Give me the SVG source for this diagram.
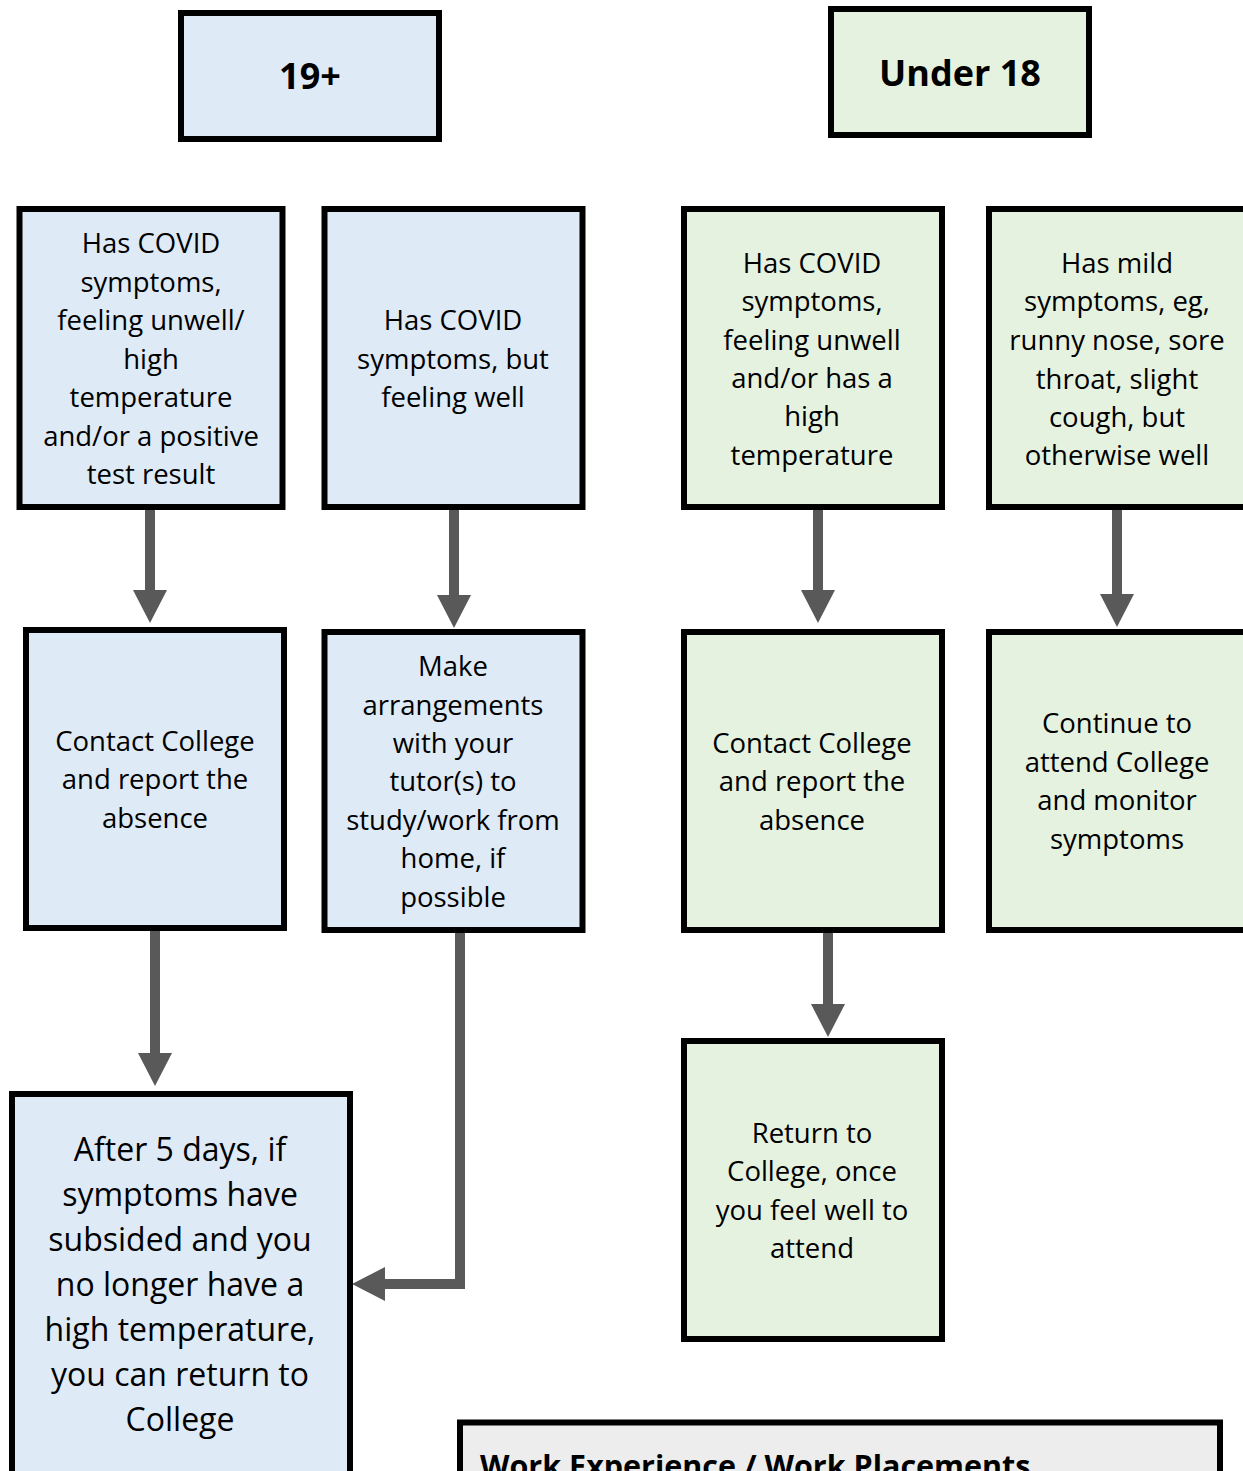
<svg xmlns="http://www.w3.org/2000/svg" width="1243" height="1471" viewBox="0 0 1243 1471">
<style>
.blue{fill:#DEEAF6;stroke:#000;stroke-width:6}
.green{fill:#E6F2E0;stroke:#000;stroke-width:6}
.grey{fill:#EDEDED;stroke:#000;stroke-width:6}
text{font-family:"Open Sans","Noto Sans","Liberation Sans",sans-serif;fill:#000}
.t{font-size:27.5px;text-anchor:middle}
.big{font-size:32px;text-anchor:middle}
.hdr{font-size:36px;font-weight:bold;text-anchor:middle}
.wk{font-size:30.5px;font-weight:bold}
.conn{fill:none;stroke:#595959;stroke-width:10}
</style>
<defs>
<marker id="ah" markerUnits="userSpaceOnUse" markerWidth="34" markerHeight="34" refX="0" refY="17" orient="auto">
<path d="M0,0 L33,17 L0,34 z" fill="#595959"/>
</marker>
</defs>
<rect width="1243" height="1471" fill="#fff"/>
<g id="connectors">
<path class="conn" d="M150,508 V590" marker-end="url(#ah)"/>
<path class="conn" d="M454,508 V595" marker-end="url(#ah)"/>
<path class="conn" d="M155,930 V1053" marker-end="url(#ah)"/>
<path class="conn" d="M460,932 V1284 H385" marker-end="url(#ah)"/>
<path class="conn" d="M818,508 V590" marker-end="url(#ah)"/>
<path class="conn" d="M1117,508 V594" marker-end="url(#ah)"/>
<path class="conn" d="M828,932 V1004" marker-end="url(#ah)"/>
</g>
<g id="hdr19">
<rect class="blue" x="181" y="13" width="258" height="126"/>
<text class="hdr" x="310" y="89">19+</text>
</g>
<g id="hdr18">
<rect class="green" x="831" y="9" width="258" height="126"/>
<text class="hdr" x="960" y="86">Under 18</text>
</g>
<g id="a1">
<rect class="blue" x="19.5" y="209" width="263" height="298"/>
<text class="t"><tspan x="151" y="253">Has COVID</tspan><tspan x="151" y="292">symptoms,</tspan><tspan x="151" y="330">feeling unwell/</tspan><tspan x="151" y="369">high</tspan><tspan x="151" y="407">temperature</tspan><tspan x="151" y="446">and/or a positive</tspan><tspan x="151" y="484">test result</tspan></text>
</g>
<g id="a2">
<rect class="blue" x="324.5" y="209" width="258" height="298"/>
<text class="t"><tspan x="453" y="330">Has COVID</tspan><tspan x="453" y="369">symptoms, but</tspan><tspan x="453" y="407">feeling well</tspan></text>
</g>
<g id="g1">
<rect class="green" x="684" y="209" width="258" height="298"/>
<text class="t"><tspan x="812" y="273">Has COVID</tspan><tspan x="812" y="311">symptoms,</tspan><tspan x="812" y="350">feeling unwell</tspan><tspan x="812" y="388">and/or has a</tspan><tspan x="812" y="426">high</tspan><tspan x="812" y="465">temperature</tspan></text>
</g>
<g id="g2">
<rect class="green" x="989" y="209" width="270" height="298"/>
<text class="t"><tspan x="1117" y="273">Has mild</tspan><tspan x="1117" y="311">symptoms, eg,</tspan><tspan x="1117" y="350">runny nose, sore</tspan><tspan x="1117" y="389">throat, slight</tspan><tspan x="1117" y="427">cough, but</tspan><tspan x="1117" y="465">otherwise well</tspan></text>
</g>
<g id="a3">
<rect class="blue" x="26" y="630" width="258" height="298"/>
<text class="t"><tspan x="155" y="751">Contact College</tspan><tspan x="155" y="789">and report the</tspan><tspan x="155" y="828">absence</tspan></text>
</g>
<g id="a4">
<rect class="blue" x="324.5" y="632" width="258" height="298"/>
<text class="t"><tspan x="453" y="676">Make</tspan><tspan x="453" y="715">arrangements</tspan><tspan x="453" y="753">with your</tspan><tspan x="453" y="791">tutor(s) to</tspan><tspan x="453" y="830">study/work from</tspan><tspan x="453" y="868">home, if</tspan><tspan x="453" y="907">possible</tspan></text>
</g>
<g id="g3">
<rect class="green" x="684" y="632" width="258" height="298"/>
<text class="t"><tspan x="812" y="753">Contact College</tspan><tspan x="812" y="791">and report the</tspan><tspan x="812" y="830">absence</tspan></text>
</g>
<g id="g4">
<rect class="green" x="989" y="632" width="270" height="298"/>
<text class="t"><tspan x="1117" y="733">Continue to</tspan><tspan x="1117" y="772">attend College</tspan><tspan x="1117" y="810">and monitor</tspan><tspan x="1117" y="849">symptoms</tspan></text>
</g>
<g id="g5">
<rect class="green" x="684" y="1041" width="258" height="298"/>
<text class="t"><tspan x="812" y="1143">Return to</tspan><tspan x="812" y="1181">College, once</tspan><tspan x="812" y="1220">you feel well to</tspan><tspan x="812" y="1258">attend</tspan></text>
</g>
<g id="a5">
<rect class="blue" x="12" y="1094" width="338" height="400"/>
<text class="big"><tspan x="180" y="1161">After 5 days, if</tspan><tspan x="180" y="1206">symptoms have</tspan><tspan x="180" y="1251">subsided and you</tspan><tspan x="180" y="1296">no longer have a</tspan><tspan x="180" y="1341">high temperature,</tspan><tspan x="180" y="1386">you can return to</tspan><tspan x="180" y="1431">College</tspan></text>
</g>
<g id="work">
<rect class="grey" x="460" y="1422.5" width="760" height="80"/>
<text class="wk" x="480" y="1477">Work Experience / Work Placements</text>
</g>
</svg>
